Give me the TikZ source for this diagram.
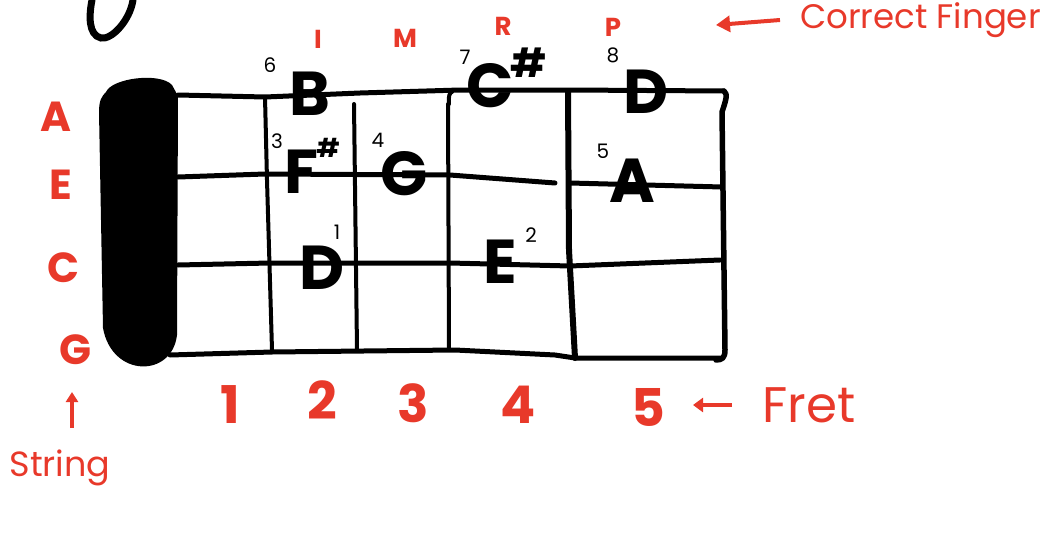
\documentclass[tikz,border=0pt]{standalone}
\usepackage{fontspec}
\setmainfont{Poppins}
\usetikzlibrary{arrows.meta}
\definecolor{pen}{HTML}{E8392A}
\tikzset{
  grid/.style={line width=5pt, line cap=round, line join=round},
  note/.style={font=\fontsize{62}{62}\selectfont\bfseries, inner sep=0pt},
  fing/.style={font=\fontsize{20}{20}\selectfont, inner sep=0pt},
  strlab/.style={text=pen, font=\fontsize{42}{42}\selectfont\bfseries, inner sep=0pt},
  fretnum/.style={text=pen, font=\fontsize{52}{52}\selectfont\bfseries, inner sep=0pt},
  fingerlab/.style={text=pen, font=\fontsize{26}{26}\selectfont\bfseries, inner sep=0pt},
  redword/.style={text=pen, font=\fontsize{34}{34}\selectfont, inner sep=0pt},
  redarrow/.style={pen, line width=4pt, -{Triangle[length=14pt,width=16pt]}},
}
\begin{document}
\begin{tikzpicture}[x=1pt,y=-1pt]
\useasboundingbox (0,0) rectangle (1047,533);
% partial stroke at top left
\draw[line width=7pt, line cap=round] (133,0) .. controls (130,20) and (112,40) .. (101,38) .. controls (88,35) and (89,15) .. (92,0);
% nut
\fill (106,92) .. controls (112,78) and (160,72) .. (172,85) -- (178,96) -- (177,335) .. controls (172,378) and (112,378) .. (103,328) -- (99,112) .. controls (99,100) and (102,96) .. cycle;
% strings
\draw[grid] (178,95) -- (265,97) -- (360,93) -- (460,90) -- (570,90) -- (724,91);
\draw[grid] (178,177) -- (265,174) -- (450,175) -- (555,183);
\draw[grid] (570,183) -- (722,187);
\draw[grid] (178,265) -- (270,263) -- (450,263) -- (570,266) -- (720,260);
\draw[grid] (170,355) -- (272,352) -- (455,350) -- (555,355) -- (575,358) -- (720,358);
% frets
\draw[grid, line width=4pt] (265,97) -- (267,180) -- (272,350);
\draw[grid, line width=4pt] (354,104) -- (357,350);
\draw[grid, line width=4pt] (449,104) .. controls (448,96) and (450,92) .. (452,92) (448,104) -- (449,350);
\draw[grid, line width=6pt] (568,92) -- (569,250) -- (575,358);
\draw[grid, line width=5.5pt] (724,91) .. controls (728,94) and (726,100) .. (722,112) -- (725,350) .. controls (725,358) and (722,360) .. (716,360);
% notes
\node[note] (nB) at (310,94) {B};
\node[fing] (f6) at (270,65) {6};
\node[note] (nCs) at (490,86) {C};
\node[note, font=\fontsize{40}{40}\selectfont\bfseries] (sh1) at (529,63) {\#};
\node[fing] (f7) at (465,57) {7};
\node[note] (nD2) at (646,92) {D};
\node[fing] (f8) at (613,55) {8};
\node[note] (nFs) at (301,172) {F};
\node[note, font=\fontsize{26}{26}\selectfont\bfseries] (sh2) at (328,148) {\#};
\node[fing] (f3) at (277,141) {3};
\node[note] (nG) at (404,174) {G};
\node[fing] (f4) at (378,140) {4};
\node[note] (nA) at (632,181) {A};
\node[fing] (f5) at (603,151) {5};
\node[note] (nD1) at (322,268) {D};
\node[fing] (f1) at (337,232) {1};
\node[note] (nE) at (500,262) {E};
\node[fing] (f2) at (531,235) {2};
% string labels
\node[strlab] (sA) at (56,117) {A};
\node[strlab] (sE) at (61,185) {E};
\node[strlab] (sC) at (64,268) {C};
\node[strlab] (sG) at (76,350) {G};
% finger labels
\node[fingerlab] (lI) at (318,39) {I};
\node[fingerlab] (lM) at (405,38) {M};
\node[fingerlab] (lR) at (503,26) {R};
\node[fingerlab] (lP) at (613,27) {P};
\node[redword, anchor=west] (cf) at (800,20) {Correct Finger};
\coordinate (cfend) at (716,25);
\draw[redarrow] (cf.west) ++(-20,0) -- (cfend);
% fret numbers
\node[fretnum] (n1) at (230,405) {1};
\node[fretnum] (n2) at (322,400) {2};
\node[fretnum] (n3) at (413,403) {3};
\node[fretnum] (n4) at (518,405) {4};
\node[fretnum] (n5) at (648,407) {5};
\node[redword, font=\fontsize{50}{50}\selectfont, anchor=west] (fret) at (762,405) {Fret};
\coordinate (fretend) at (693,405);
\draw[redarrow, -{Triangle[length=10pt,width=14pt]}] (fret.west) ++(-30,0) -- (fretend);
% string word
\node[redword, font=\fontsize{35}{35}\selectfont] (str) at (60,468) {String};
\coordinate (strend) at (72,392);
\draw[redarrow, -{Triangle[length=10pt,width=12pt]}] (72,428) -- (strend);
\end{tikzpicture}
\end{document}
